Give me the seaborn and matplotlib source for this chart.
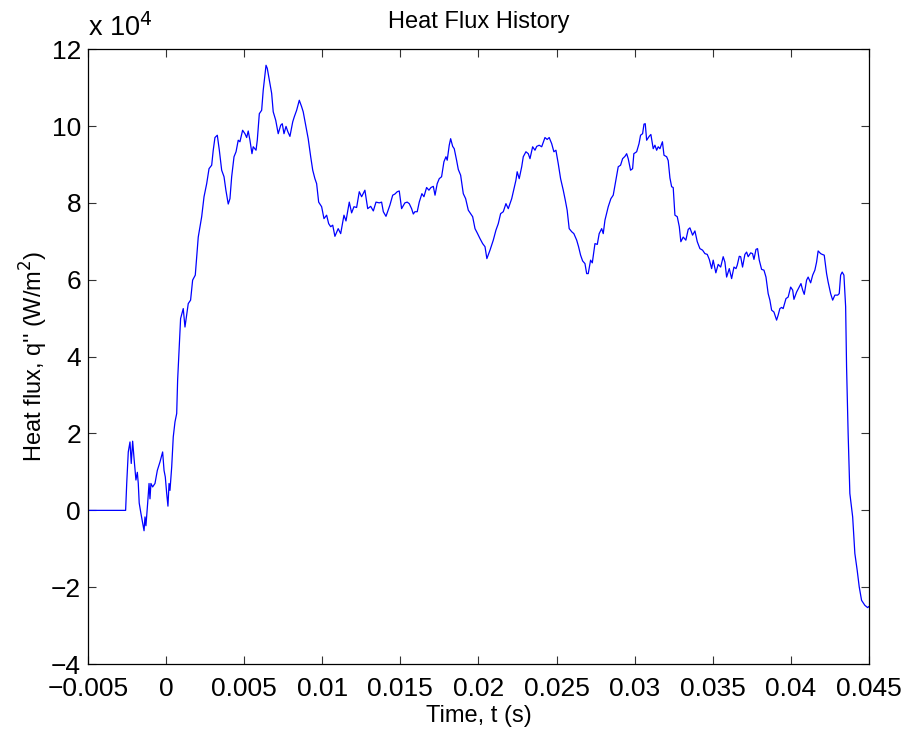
"""
Heat flux history q''(t), MATLAB-style line plot.
"""

import matplotlib
matplotlib.use("Agg")
import matplotlib.pyplot as plt
from matplotlib.ticker import FuncFormatter, MultipleLocator
import numpy as np
import pandas as pd
import seaborn as sns

# time in milliseconds, heat flux in units of 1e4 W/m^2
t_ms = [
    -5.00, -2.59, -2.52, -2.42, -2.31, -2.23, -2.14, -2.04, -1.93, -1.84,
    -1.78, -1.72, -1.61, -1.50, -1.41, -1.35, -1.29, -1.18, -1.09, -1.03,
    -0.97, -0.86, -0.71, -0.56, -0.39, -0.22, -0.13, -0.05, 0.04, 0.12,
    0.19, 0.25, 0.36, 0.46, 0.57, 0.68, 0.74, 0.89, 0.93, 1.10,
    1.21, 1.42, 1.57, 1.70, 1.87, 2.06, 2.28, 2.43, 2.60, 2.75,
    2.92, 3.02, 3.13, 3.28, 3.41, 3.56, 3.71, 3.83, 3.98, 4.09,
    4.20, 4.35, 4.48, 4.62, 4.73, 4.90, 5.05, 5.16, 5.26, 5.37,
    5.50, 5.58, 5.76, 5.84, 5.97, 6.12, 6.22, 6.40, 6.48, 6.65,
    6.76, 6.86, 7.02, 7.18, 7.34, 7.44, 7.55, 7.68, 7.80, 7.93,
    8.11, 8.21, 8.36, 8.53, 8.68, 8.78, 8.96, 9.10, 9.26, 9.39,
    9.53, 9.64, 9.77, 9.96, 10.11, 10.28, 10.41, 10.54, 10.67, 10.81,
    11.02, 11.18, 11.39, 11.52, 11.73, 11.88, 12.03, 12.20, 12.37, 12.52,
    12.73, 12.91, 13.10, 13.27, 13.44, 13.65, 13.80, 13.91, 14.08, 14.33,
    14.51, 14.65, 14.80, 14.93, 15.08, 15.29, 15.44, 15.57, 15.72, 15.83,
    15.93, 16.08, 16.21, 16.38, 16.51, 16.68, 16.83, 16.96, 17.11, 17.22,
    17.36, 17.49, 17.64, 17.79, 17.92, 18.00, 18.13, 18.22, 18.35, 18.45,
    18.60, 18.71, 18.86, 19.03, 19.18, 19.35, 19.50, 19.63, 19.78, 19.92,
    20.10, 20.27, 20.42, 20.54, 20.74, 20.95, 21.12, 21.27, 21.42, 21.59,
    21.76, 21.91, 22.13, 22.23, 22.40, 22.48, 22.61, 22.77, 22.87, 23.04,
    23.19, 23.30, 23.47, 23.62, 23.73, 23.89, 24.05, 24.26, 24.40, 24.53,
    24.69, 24.83, 24.96, 25.11, 25.26, 25.43, 25.56, 25.68, 25.81, 25.97,
    26.11, 26.29, 26.41, 26.54, 26.67, 26.82, 26.93, 27.03, 27.18, 27.29,
    27.46, 27.61, 27.73, 27.89, 27.99, 28.10, 28.31, 28.48, 28.63, 28.80,
    28.95, 29.10, 29.23, 29.38, 29.49, 29.59, 29.74, 29.87, 29.95, 30.13,
    30.28, 30.38, 30.51, 30.60, 30.68, 30.77, 30.93, 31.04, 31.19, 31.30,
    31.41, 31.51, 31.62, 31.78, 31.88, 32.05, 32.15, 32.26, 32.37, 32.47,
    32.58, 32.73, 32.86, 32.96, 33.11, 33.28, 33.43, 33.54, 33.71, 33.86,
    34.01, 34.18, 34.35, 34.50, 34.65, 34.78, 34.93, 35.03, 35.20, 35.35,
    35.51, 35.67, 35.78, 35.89, 36.06, 36.21, 36.36, 36.49, 36.57, 36.70,
    36.79, 36.91, 37.06, 37.17, 37.27, 37.43, 37.55, 37.64, 37.77, 37.87,
    37.98, 38.13, 38.28, 38.41, 38.55, 38.66, 38.77, 38.92, 39.09, 39.19,
    39.30, 39.41, 39.51, 39.69, 39.83, 39.99, 40.12, 40.20, 40.37, 40.54,
    40.65, 40.76, 40.86, 41.01, 41.11, 41.27, 41.40, 41.54, 41.65, 41.75,
    41.91, 42.01, 42.14, 42.29, 42.39, 42.55, 42.68, 42.82, 43.00, 43.10,
    43.19, 43.29, 43.40, 43.51, 43.57, 43.67, 43.78, 43.96, 44.10, 44.25,
    44.38, 44.53, 44.74, 44.92, 45.00,
]

q_1e4 = [
    0.00, 0.00, 0.70, 1.52, 1.78, 1.22, 1.80, 1.30, 0.79, 0.99,
    0.70, 0.19, -0.08, -0.33, -0.53, -0.17, -0.40, 0.18, 0.70, 0.30,
    0.70, 0.61, 0.70, 1.04, 1.26, 1.52, 1.04, 0.87, 0.44, 0.11,
    0.70, 0.52, 1.13, 1.91, 2.30, 2.52, 3.39, 4.69, 4.99, 5.25,
    4.77, 5.38, 5.47, 5.99, 6.12, 7.11, 7.64, 8.16, 8.50, 8.89,
    8.98, 9.37, 9.70, 9.76, 9.37, 8.85, 8.68, 8.33, 7.97, 8.11,
    8.68, 9.20, 9.33, 9.63, 9.59, 9.89, 9.80, 9.70, 9.87, 9.63,
    9.28, 9.46, 9.37, 9.63, 10.32, 10.41, 10.93, 11.58, 11.50, 11.11,
    10.85, 10.37, 10.15, 9.80, 10.02, 10.06, 9.80, 9.99, 9.85, 9.73,
    10.11, 10.24, 10.41, 10.67, 10.50, 10.37, 9.98, 9.67, 9.20, 8.85,
    8.63, 8.50, 8.02, 7.90, 7.59, 7.68, 7.46, 7.38, 7.42, 7.13,
    7.33, 7.20, 7.68, 7.53, 8.02, 7.74, 7.90, 7.88, 8.29, 8.16,
    8.33, 7.85, 7.91, 7.79, 8.02, 8.00, 8.02, 7.77, 7.65, 7.94,
    8.20, 8.23, 8.29, 8.31, 7.85, 8.00, 8.02, 7.98, 7.85, 7.71,
    7.77, 7.77, 8.02, 8.24, 8.16, 8.40, 8.33, 8.40, 8.43, 8.20,
    8.50, 8.63, 8.68, 9.07, 9.20, 9.11, 9.50, 9.67, 9.47, 9.41,
    9.11, 8.87, 8.72, 8.24, 8.11, 7.81, 7.72, 7.64, 7.33, 7.22,
    7.07, 6.94, 6.86, 6.55, 6.77, 7.03, 7.29, 7.46, 7.72, 7.77,
    7.98, 7.85, 8.11, 8.29, 8.59, 8.81, 8.63, 8.94, 9.20, 9.33,
    9.28, 9.15, 9.46, 9.37, 9.47, 9.50, 9.46, 9.70, 9.65, 9.70,
    9.54, 9.33, 9.37, 9.02, 8.63, 8.33, 8.07, 7.81, 7.33, 7.25,
    7.20, 7.03, 6.86, 6.64, 6.49, 6.42, 6.16, 6.16, 6.51, 6.44,
    6.94, 6.92, 7.20, 7.33, 7.20, 7.55, 7.90, 8.11, 8.20, 8.59,
    8.94, 8.98, 9.15, 9.21, 9.28, 9.15, 8.85, 8.89, 9.28, 9.33,
    9.54, 9.76, 9.80, 10.05, 10.06, 9.63, 9.73, 9.78, 9.41, 9.50,
    9.37, 9.46, 9.41, 9.59, 9.24, 9.20, 9.10, 8.65, 8.42, 8.40,
    7.68, 7.64, 7.38, 6.99, 7.11, 7.03, 7.31, 7.35, 7.16, 7.27,
    6.99, 6.81, 6.77, 6.68, 6.66, 6.53, 6.29, 6.51, 6.18, 6.40,
    6.33, 6.60, 6.46, 6.07, 6.29, 6.03, 6.33, 6.29, 6.38, 6.61,
    6.60, 6.33, 6.66, 6.72, 6.60, 6.70, 6.68, 6.53, 6.79, 6.81,
    6.51, 6.27, 6.25, 6.07, 5.64, 5.47, 5.21, 5.16, 4.95, 5.08,
    5.25, 5.28, 5.25, 5.51, 5.55, 5.81, 5.73, 5.49, 5.68, 5.81,
    5.90, 5.73, 5.62, 5.99, 6.07, 5.92, 6.12, 6.25, 6.46, 6.75,
    6.68, 6.66, 6.64, 6.16, 5.94, 5.64, 5.47, 5.60, 5.60, 5.64,
    6.12, 6.20, 6.12, 5.30, 3.73, 2.00, 0.44, -0.17, -1.12, -1.56,
    -1.99, -2.34, -2.47, -2.53, -2.50,
]

X_TICKS = [-0.005, 0, 0.005, 0.01, 0.015, 0.02, 0.025, 0.03, 0.035, 0.04, 0.045]


def fmt_tick(v, pos):
    s = "%g" % round(v, 4)
    return s.replace("-", "\u2212")


def main():
    sns.set_style("white")
    plt.rcParams["font.family"] = ["Liberation Sans", "DejaVu Sans"]
    plt.rcParams["text.color"] = "black"
    plt.rcParams["axes.labelcolor"] = "black"

    df = pd.DataFrame({"t": np.array(t_ms) / 1000.0, "q": q_1e4})

    fig = plt.figure(figsize=(9.07, 7.29), dpi=100)
    ax = fig.add_axes([0.097, 0.089, 0.861, 0.8436])

    sns.lineplot(data=df, x="t", y="q", estimator=None, sort=False,
                 color="#0000ff", linewidth=0.9, ax=ax)

    ax.set_xlim(-0.005, 0.045)
    ax.set_ylim(-4, 12)
    ax.set_xticks(X_TICKS)
    ax.xaxis.set_major_formatter(FuncFormatter(fmt_tick))
    ax.yaxis.set_major_locator(MultipleLocator(2))
    ax.yaxis.set_major_formatter(FuncFormatter(fmt_tick))

    ax.tick_params(direction="in", length=6, width=0.8, labelsize=19,
                   top=True, right=True, bottom=True, left=True,
                   color="#333333", labelcolor="black")
    ax.tick_params(axis="x", pad=9)
    ax.tick_params(axis="y", pad=5)
    for sp in ax.spines.values():
        sp.set_visible(True)
        sp.set_color("black")
        sp.set_linewidth(0.9)

    ax.set_title("Heat Flux History", fontsize=17, pad=15, color="black")
    ax.set_xlabel("Time, t (s)", fontsize=17, labelpad=3)
    ax.set_ylabel("Heat flux, q'' (W/m$^2$)", fontsize=17, labelpad=1)
    ax.text(0.0, 1.012, "x 10$^4$", transform=ax.transAxes, fontsize=19.5,
            ha="left", va="bottom")

    fig.savefig("out.png", dpi=100, facecolor="white")
    plt.close(fig)


if __name__ == "__main__":
    main()
